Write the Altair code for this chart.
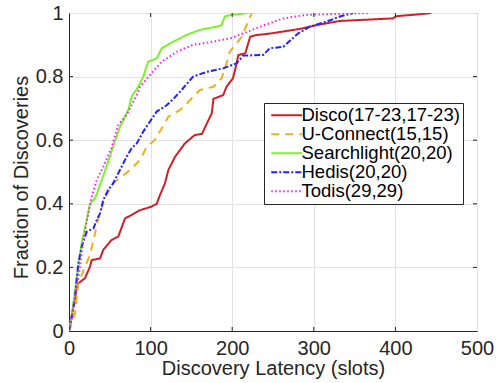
import altair as alt
import pandas as pd

series_names = ["Disco(17-23,17-23)", "U-Connect(15,15)", "Searchlight(20,20)", "Hedis(20,20)", "Todis(29,29)"]
series_colors = ["#d01f26", "#edb120", "#7cf22a", "#2222ff", "#ff1aff"]
series_dashes = [[1, 0], [8, 6], [1, 0], [6, 2, 2, 2], [1.5, 2.5]]

disco_x = [0, 3, 6, 9, 11.4, 19.6, 25.7, 27.8, 38, 42, 52, 60.4, 68.6, 76.8, 87, 101, 107.5, 111.5, 117.6, 121.7,
           130, 142, 154, 163, 169, 175, 177, 189, 193, 201, 205.5, 207.5, 216, 222, 228, 248, 283, 303.5, 332, 397,
           401.5, 430, 444]
disco_y = [0, 0.04, 0.09, 0.13, 0.15, 0.166, 0.202, 0.223, 0.228, 0.255, 0.286, 0.297, 0.354, 0.365, 0.38, 0.391,
           0.40, 0.428, 0.464, 0.506, 0.548, 0.59, 0.616, 0.62, 0.653, 0.685, 0.73, 0.742, 0.768, 0.795, 0.842, 0.868,
           0.873, 0.925, 0.93, 0.936, 0.95, 0.962, 0.975, 0.983, 0.99, 0.996, 1.0]

uconnect_x = [0, 7.4, 11.4, 19.6, 25.7, 30, 36, 40, 46, 54, 64.6, 74.8, 87, 95, 105, 113.6, 121.7, 136, 146, 160.5,
              177, 187, 193, 197, 205.5, 211.6, 217.7, 224]
uconnect_y = [0, 0.055, 0.15, 0.202, 0.239, 0.286, 0.354, 0.386, 0.428, 0.464, 0.485, 0.506, 0.538, 0.578, 0.60,
              0.637, 0.674, 0.695, 0.72, 0.758, 0.768, 0.795, 0.842, 0.878, 0.905, 0.925, 0.962, 1.0]

search_x = [0, 4, 7.4, 11.4, 15.5, 21.7, 25.7, 32, 38, 46, 54, 62.5, 72.7, 76.8, 85, 91, 97, 107.5, 113.6, 128, 144,
            160.5, 181, 187, 191, 199, 220]
search_y = [0, 0.06, 0.129, 0.197, 0.276, 0.349, 0.40, 0.417, 0.46, 0.517, 0.58, 0.642, 0.695, 0.737, 0.768, 0.80,
            0.847, 0.857, 0.889, 0.91, 0.931, 0.947, 0.957, 0.962, 0.989, 0.994, 1.0]

hedis_x = [0, 3, 7, 11.4, 15.5, 21.7, 30, 34, 38, 42, 48, 54, 60.4, 70.7, 76.8, 83, 91, 99, 107.5, 119.7, 128, 138,
           152, 169, 189, 205.5, 213.6, 238, 246, 262.6, 281, 295, 315.8, 332, 348]
hedis_y = [0, 0.04, 0.097, 0.213, 0.265, 0.312, 0.323, 0.349, 0.37, 0.412, 0.443, 0.464, 0.496, 0.548, 0.575, 0.59,
           0.627, 0.658, 0.69, 0.71, 0.73, 0.758, 0.80, 0.815, 0.826, 0.842, 0.866, 0.868, 0.889, 0.894, 0.936, 0.957,
           0.973, 0.989, 1.0]

todis_x = [0, 5, 13.5, 17.5, 23.7, 27.8, 34, 42, 52, 60.4, 70.7, 83, 87, 101, 113.6, 132, 152, 177, 197, 217.7, 234,
           262.6, 291, 367]
todis_y = [0, 0.066, 0.20, 0.286, 0.37, 0.422, 0.475, 0.517, 0.575, 0.648, 0.68, 0.742, 0.768, 0.81, 0.847, 0.878,
           0.90, 0.91, 0.92, 0.94, 0.957, 0.983, 0.994, 1.0]

x_ticks = [0, 100, 200, 300, 400, 500]
y_ticks = [0, 0.2, 0.4, 0.6, 0.8, 1.0]
inner_x_ticks = [100, 200, 300, 400]
inner_y_ticks = [0.2, 0.4, 0.6, 0.8]

rows = []
for name, xs, ys in zip(series_names,
                        [disco_x, uconnect_x, search_x, hedis_x, todis_x],
                        [disco_y, uconnect_y, search_y, hedis_y, todis_y]):
    for i, (xv, yv) in enumerate(zip(xs, ys)):
        rows.append({"series": name, "x": xv, "y": yv, "i": i})
df = pd.DataFrame(rows)

W, H = 408, 318
FONT = "Liberation Sans"
TXT = "#262626"

xscale = alt.Scale(domain=[0, 500], nice=False, zero=False)
yscale = alt.Scale(domain=[0, 1], nice=False, zero=False)


def make_legend():
    return alt.Legend(title=None, orient="none", legendX=195, legendY=90,
                      symbolType="M-1,0L5.2,0", symbolSize=100, symbolStrokeWidth=2,
                      labelFontSize=18.5, labelFont=FONT, labelColor="#000000",
                      labelOffset=16, rowPadding=0, padding=3,
                      fillColor="white", strokeColor="#262626", labelLimit=400)


lines = alt.Chart(df).mark_line(strokeWidth=2, clip=True).encode(
    x=alt.X("x:Q", scale=xscale,
            axis=alt.Axis(values=x_ticks, title="Discovery Latency (slots)", grid=True, ticks=False,
                          labelFlush=False, labelPadding=7, labelFontSize=20, labelFont=FONT, labelColor=TXT,
                          titleFontSize=20, titleFont=FONT, titleColor=TXT, titleFontWeight="normal",
                          titleY=43, titleBaseline="alphabetic",
                          domainColor="#262626", domainWidth=1, gridColor="#e3e3e3", gridWidth=1)),
    y=alt.Y("y:Q", scale=yscale,
            axis=alt.Axis(values=y_ticks, format=".1~f", title="Fraction of Discoveries", grid=True, ticks=False,
                          labelPadding=6, labelFontSize=20, labelFont=FONT, labelColor=TXT,
                          titleFontSize=20, titleFont=FONT, titleColor=TXT, titleFontWeight="normal",
                          titleX=-42, titleY=164, titleAlign="center", titleBaseline="alphabetic",
                          domainColor="#262626", domainWidth=1, gridColor="#e3e3e3", gridWidth=1)),
    color=alt.Color("series:N", sort=series_names,
                    scale=alt.Scale(domain=series_names, range=series_colors),
                    legend=make_legend()),
    strokeDash=alt.StrokeDash("series:N", sort=series_names,
                              scale=alt.Scale(domain=series_names, range=series_dashes),
                              legend=make_legend()),
    detail="series:N",
    order="i:Q",
)

xt = pd.DataFrame({"v": inner_x_ticks})
yt = pd.DataFrame({"v": inner_y_ticks})
tick_color = "#262626"
bottom_ticks = alt.Chart(xt).mark_rule(color=tick_color, strokeWidth=1).encode(
    x=alt.X("v:Q", scale=xscale), y=alt.value(H), y2=alt.value(H - 4))
top_ticks = alt.Chart(xt).mark_rule(color=tick_color, strokeWidth=1).encode(
    x=alt.X("v:Q", scale=xscale), y=alt.value(0), y2=alt.value(4))
left_ticks = alt.Chart(yt).mark_rule(color=tick_color, strokeWidth=1).encode(
    y=alt.Y("v:Q", scale=yscale), x=alt.value(0), x2=alt.value(4))
right_ticks = alt.Chart(yt).mark_rule(color=tick_color, strokeWidth=1).encode(
    y=alt.Y("v:Q", scale=yscale), x=alt.value(W), x2=alt.value(W - 4))

chart = alt.layer(lines, bottom_ticks, top_ticks, left_ticks, right_ticks).properties(
    width=W, height=H,
    autosize=alt.AutoSizeParams(type="none"),
    padding={"left": 69, "top": 13, "right": 27, "bottom": 52},
    background="white",
).configure_view(stroke="#262626", strokeWidth=1).configure_legend(
    strokeWidth=1
)

chart.save("out.html", embed_options={"renderer": "svg", "actions": False})
